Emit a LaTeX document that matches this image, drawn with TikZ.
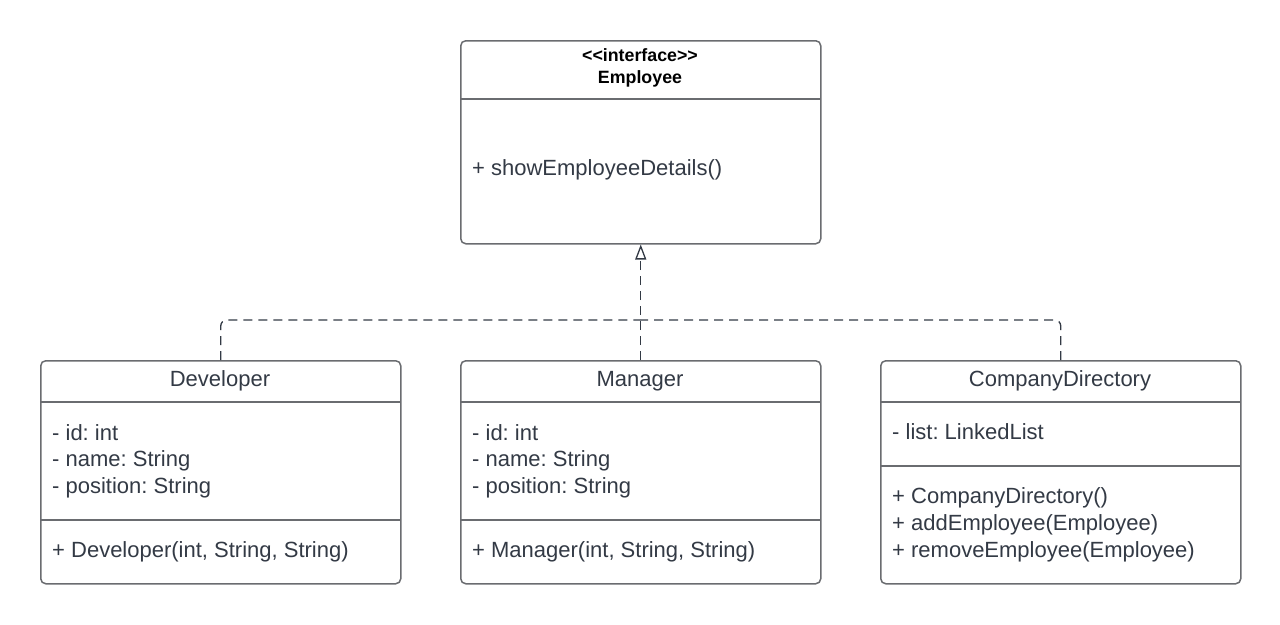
\documentclass[tikz,border=0pt]{standalone}
\usepackage{fontspec}
\setmainfont{Liberation Sans}
\usetikzlibrary{arrows.meta}
\definecolor{txtc}{HTML}{333A45}
\definecolor{linec}{HTML}{6A6C70}
\frenchspacing
\tikzset{
  classbox/.style={draw=linec, line width=1.5pt, rounded corners=5pt, fill=white, anchor=north west, inner sep=0pt},
  divider/.style={draw=linec, line width=1.5pt},
  txt/.style={text=txtc, font=\fontsize{22}{26}\selectfont, inner sep=0pt, anchor=base west},
  ttl/.style={text=txtc, font=\fontsize{22}{26}\selectfont, inner sep=0pt, anchor=base},
  btl/.style={text=black, font=\fontsize{17.8}{21}\selectfont\bfseries, inner sep=0pt, anchor=base},
  conn/.style={draw=txtc, line width=1.3pt, dash pattern=on 9pt off 6pt},
}
\begin{document}
\begin{tikzpicture}[x=1pt,y=-1pt]
\useasboundingbox (0,0) rectangle (1280,624);
% boxes
\node[classbox, minimum width=360pt, minimum height=203pt] (emp) at (460,40) {};
\node[classbox, minimum width=360pt, minimum height=223pt] (dev) at (40,360) {};
\node[classbox, minimum width=360pt, minimum height=223pt] (man) at (460,360) {};
\node[classbox, minimum width=360pt, minimum height=223pt] (cd) at (880,360) {};
% dividers
\draw[divider] (460,99) -- (820,99);
\draw[divider] (40,402) -- (400,402);
\draw[divider] (40,520) -- (400,520);
\draw[divider] (460,402) -- (820,402);
\draw[divider] (460,520) -- (820,520);
\draw[divider] (880,402) -- (1240,402);
\draw[divider] (880,466) -- (1240,466);
% Employee
\node[btl] (e1) at (640,61.5) {<\kern0pt<interface>\kern0pt>};
\node[btl] (e2) at (640,83.5) {Employee};
\node[txt] (e3) at (472,175) {+ showEmployeeDetails()};
% Developer
\node[ttl] (d0) at (220,386) {Developer};
\node[txt] (d1) at (52,440) {- id: int};
\node[txt] (d2) at (52,466.5) {- name: String};
\node[txt] (d3) at (52,493) {- position: String};
\node[txt] (d4) at (52,557) {+ Developer(int, String, String)};
% Manager
\node[ttl] (m0) at (640,386) {Manager};
\node[txt] (m1) at (472,440) {- id: int};
\node[txt] (m2) at (472,466.5) {- name: String};
\node[txt] (m3) at (472,493) {- position: String};
\node[txt] (m4) at (472,557) {+ Manager(int, String, String)};
% CompanyDirectory
\node[ttl] (c0) at (1060,386) {CompanyDirectory};
\node[txt] (c1) at (892,439) {- list: LinkedList};
\node[txt] (c2) at (892,503.5) {+ CompanyDirectory()};
\node[txt] (c3) at (892,530) {+ addEmployee(Employee)};
\node[txt] (c4) at (892,557) {+ removeEmployee(Employee)};
% connectors
\coordinate (j) at (640,320);
\draw[conn, rounded corners=6pt] (dev.north) |- (j);
\draw[conn, rounded corners=6pt] (cd.north) |- (j);
\draw[conn, -{Triangle[open, length=15pt, width=11pt, line width=1.3pt, fill=white]}] (man.north) -- (emp.south);
\end{tikzpicture}
\end{document}
